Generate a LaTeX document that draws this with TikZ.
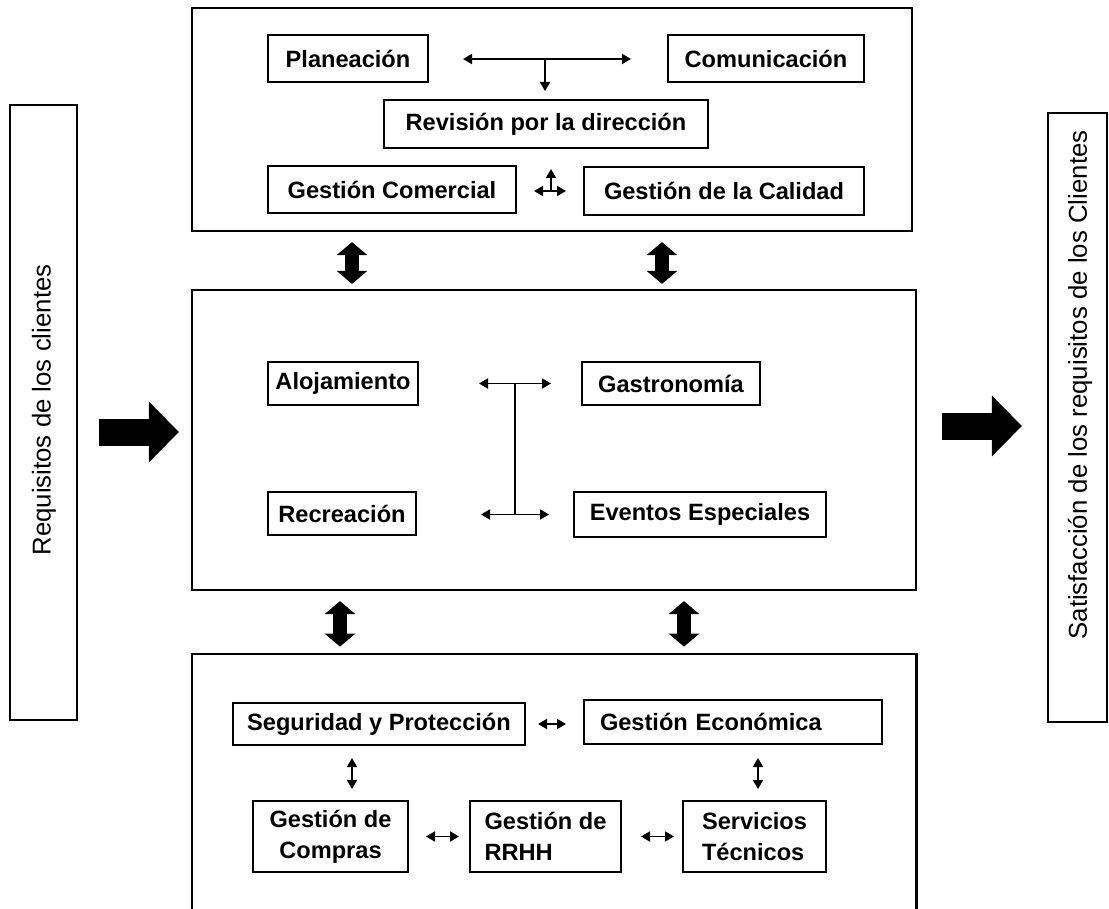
\documentclass[tikz,border=0pt]{standalone}
\usepackage{fontspec}
\setmainfont{Liberation Sans}
\usetikzlibrary{arrows.meta}

\begin{document}
\begin{tikzpicture}[x=0.5pt,y=-0.5pt]
    \useasboundingbox (0,0) rectangle (1109,909);
    \begin{scope}[every node/.style={draw,line width=1.1pt,inner sep=0pt}]
      \node[minimum width=360pt,minimum height=111.5pt] (sup) at (552,119.5) {};
      \node[minimum width=362pt,minimum height=150pt] (mid) at (554,440) {};
      \node[minimum width=33.5pt,minimum height=307.5pt] (lft) at (43.5,412.5) {};
      \node[minimum width=29.5pt,minimum height=304.5pt] (rgt) at (1077.5,417.5) {};
    \end{scope}
    \node[minimum width=362pt,minimum height=127.5pt,inner sep=0pt] (inf) at (554,781.5) {};
    \draw[line width=1.1pt] (inf.south west) |- (inf.north east) -- (inf.south east);
    \begin{scope}[every node/.style={rotate=90,inner sep=0pt,font=\fontsize{12.9}{15}\selectfont}]
      \node (req) at (44,410) {Requisitos de los clientes};
      \node (sat) at (1080,385) {Satisfacción de los requisitos de los Clientes};
    \end{scope}
    \begin{scope}[every node/.style={draw,line width=1pt,inner sep=0pt,minimum height=23.5pt,
        font=\bfseries\fontsize{11.8}{15.5}\selectfont}]
      \node[minimum width=80pt] (plan) at (348,59) {Planeación};
      \node[minimum width=98pt] (comu) at (766,59) {Comunicación};
      \node[minimum width=162pt,minimum height=24pt] (revi) at (546,124) {Revisión por la dirección};
      \node[minimum width=124pt] (gcom) at (392,189.5) {Gestión Comercial};
      \node[minimum width=140pt,minimum height=24pt] (gcal) at (724,191) {Gestión de la Calidad};
      \node[minimum width=75pt,minimum height=21.5pt] (aloj) at (343,383.5) {Alojamiento};
      \node[minimum width=89pt,minimum height=21.5pt] (gast) at (671,383.5) {Gastronomía};
      \node[minimum width=74pt,minimum height=21.5pt] (recr) at (342,513.5) {Recreación};
      \node[minimum width=126pt,minimum height=22.5pt] (even) at (700,514.5) {Eventos Especiales};
      \node[minimum width=146pt,minimum height=21pt] (segu) at (379,724) {Seguridad y Protección};
      \node[text width=133pt,inner xsep=8pt,align=left,minimum height=22pt] (geco) at (733,722) {Gestión Económica};
      \node[minimum width=77.5pt,minimum height=35.5pt,align=center] (gcmp) at (330.5,836.5) {Gestión de\\Compras};
      \node[minimum width=75.5pt,minimum height=35.5pt,align=left] (grrh) at (545.5,836.5) {Gestión de\\RRHH};
      \node[minimum width=71.5pt,minimum height=35.5pt,align=left] (serv) at (754.5,836.5) {Servicios\\Técnicos};
    \end{scope}
    \coordinate (pc) at (545,59);
    \coordinate (gc) at (551,191);
    \coordinate (gu) at (551,169);
    \coordinate (ht) at (515,383.5);
    \coordinate (hb) at (515,514.5);
    \begin{scope}[>={Triangle[length=4.5pt,width=5pt]},every edge/.style={draw=black,line width=0.9pt,<->}]
      \path (plan.east) edge[shorten <=17pt,shorten >=18pt] (comu.west);
      \path (pc) edge[->,shorten >=4pt] (pc |- revi.north);
      \path (gcom.east |- gcal.west) edge[shorten <=8.5pt,shorten >=8.5pt] (gcal.west);
      \path (gc) edge[->] (gu);
      \path (aloj.east) edge[shorten <=30pt,shorten >=15pt] (gast.west);
      \path (recr.east |- even.west) edge[shorten <=32pt,shorten >=12pt] (even.west);
      \path (ht) edge[-] (hb);
      \path (segu.east) edge[shorten <=6pt,shorten >=8.5pt] (segu.east -| geco.west);
      \path ([xshift=-13.5pt]segu.south) edge[shorten <=6pt,shorten >=5.5pt] ([xshift=10.75pt]gcmp.north);
      \path ([xshift=12.5pt]geco.south) edge[shorten <=6.5pt,shorten >=5.5pt] ([xshift=1.75pt]serv.north);
      \path (gcmp.east) edge[shorten <=8.5pt,shorten >=5pt] (grrh.west);
      \path (grrh.east) edge[shorten <=9.5pt,shorten >=4pt] (serv.west);
    \end{scope}
    \begin{scope}[>={Triangle[length=6.5pt,width=15pt]},every edge/.style={draw=black,line width=7pt,<->}]
      \path ([xshift=-100pt]sup.south) edge[shorten <=5pt,shorten >=2.5pt] ([xshift=-101pt]mid.north);
      \path ([xshift=55pt]sup.south) edge[shorten <=5pt,shorten >=2.5pt] ([xshift=54pt]mid.north);
      \path ([xshift=-107pt]mid.south) edge[shorten <=5pt,shorten >=3.5pt] ([xshift=-107pt]inf.north);
      \path ([xshift=65pt]mid.south) edge[shorten <=5pt,shorten >=3.5pt] ([xshift=65pt]inf.north);
    \end{scope}
    \begin{scope}[>={Triangle[length=15pt,width=29.5pt]},every edge/.style={draw=black,line width=13.5pt,->}]
      \path ([yshift=-9.75pt]lft.east) edge[shorten <=10.5pt,shorten >=6pt] ([yshift=4pt]mid.west);
      \path ([yshift=7pt]mid.east) edge[shorten <=12.5pt,shorten >=12.5pt] ([yshift=-4.25pt]rgt.west);
    \end{scope}
  \end{tikzpicture}
\end{document}
